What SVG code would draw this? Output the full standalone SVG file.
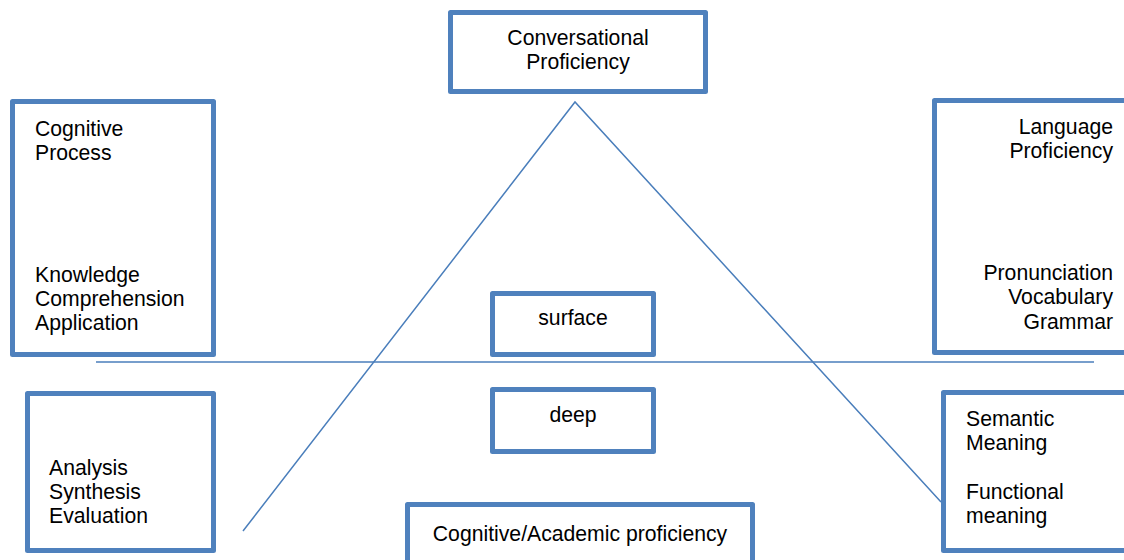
<svg xmlns="http://www.w3.org/2000/svg" width="1124" height="560" viewBox="0 0 1124 560">
<style>
.box{fill:#fff;stroke:#4F81BD;stroke-width:5;stroke-linejoin:round}
.ln{stroke:#4A7EBB;stroke-width:1.5;fill:none}
text{font-family:"Liberation Sans",Arial,sans-serif;font-size:21.2px;fill:#000}
.m{text-anchor:middle}
.r{text-anchor:end}
</style>
<rect width="1124" height="560" fill="#fff"/>
<g id="connectors">
<line class="ln" x1="96" y1="362" x2="1094" y2="362"/>
<polyline class="ln" points="243,531 575,102 941,502"/>
</g>
<g id="conversational">
<rect class="box" x="450.5" y="12.5" width="255" height="79"/>
<text class="m" x="578" y="45">Conversational</text>
<text class="m" x="578" y="69">Proficiency</text>
</g>
<g id="cognitive-process">
<rect class="box" x="12.5" y="101.5" width="201" height="253"/>
<text x="35" y="136">Cognitive</text>
<text x="35" y="160">Process</text>
<text x="35" y="282">Knowledge</text>
<text x="35" y="306">Comprehension</text>
<text x="35" y="330">Application</text>
</g>
<g id="language-proficiency">
<rect class="box" x="934.5" y="100.5" width="200" height="252"/>
<text class="r" x="1113" y="134">Language</text>
<text class="r" x="1113" y="158">Proficiency</text>
<text class="r" x="1113" y="280">Pronunciation</text>
<text class="r" x="1113" y="304">Vocabulary</text>
<text class="r" x="1113" y="329">Grammar</text>
</g>
<g id="surface">
<rect class="box" x="492.5" y="293.5" width="161" height="61"/>
<text class="m" x="573" y="325">surface</text>
</g>
<g id="deep">
<rect class="box" x="492.5" y="389.5" width="161" height="62"/>
<text class="m" x="573" y="422">deep</text>
</g>
<g id="higher-order">
<rect class="box" x="27.5" y="393.5" width="186" height="157"/>
<text x="49" y="475">Analysis</text>
<text x="49" y="499">Synthesis</text>
<text x="49" y="523">Evaluation</text>
</g>
<g id="meaning">
<rect class="box" x="943.5" y="392.5" width="200" height="158"/>
<text x="966" y="426">Semantic</text>
<text x="966" y="450">Meaning</text>
<text x="966" y="499">Functional</text>
<text x="966" y="523">meaning</text>
</g>
<g id="cognitive-academic">
<rect class="box" x="407.5" y="504.5" width="345" height="70"/>
<text class="m" x="580" y="541">Cognitive/Academic proficiency</text>
</g>
</svg>
